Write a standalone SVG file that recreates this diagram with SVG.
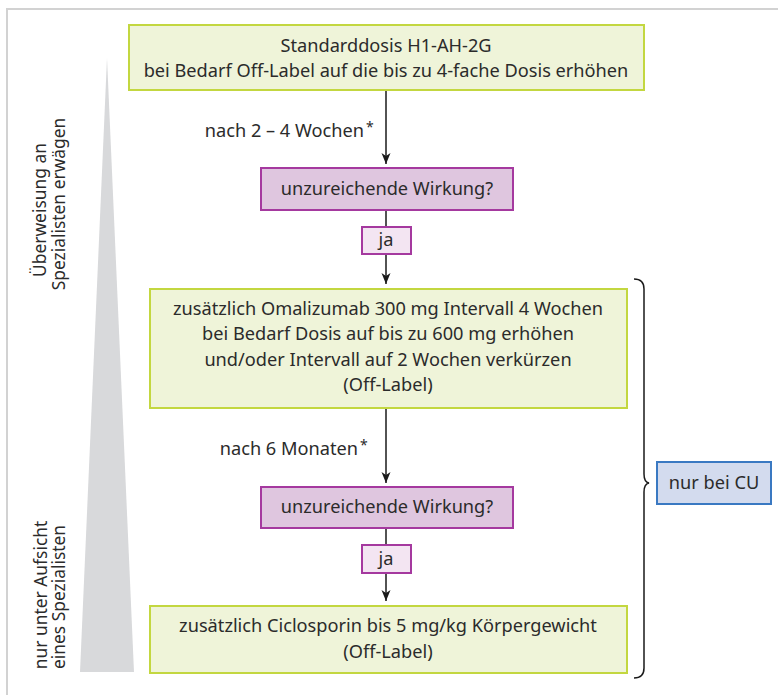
<svg xmlns="http://www.w3.org/2000/svg" width="778" height="695" viewBox="0 0 778 695">
<defs>
<marker id="ah" markerWidth="12" markerHeight="10" refX="11" refY="5" orient="auto" markerUnits="userSpaceOnUse">
<path d="M0,0.5 L11,5 L0,9.5 L3,5 Z" fill="#1a1a1a"/>
</marker>
</defs>
<style>
text{font-family:"Noto Sans","Liberation Sans",Arial,sans-serif;font-size:18.2px;fill:#2b2b2b}
.c{text-anchor:middle}
.r{text-anchor:end}
.side{font-size:17.4px}
.green{fill:#eff4d9;stroke:#c3d740;stroke-width:2}
.purple{fill:#dfc6df;stroke:#a5399f;stroke-width:2}
.ja{fill:#f3e5f2;stroke:#a5399f;stroke-width:2}
.blue{fill:#d3dbee;stroke:#3a79c2;stroke-width:2}
.conn{stroke:#1a1a1a;stroke-width:1.5;fill:none}
.sup{font-size:14px}
</style>
<rect x="0" y="0" width="778" height="695" fill="#ffffff"/>
<path d="M7,695 L7,9 L778,9" fill="none" stroke="#d2d2d2" stroke-width="2"/>
<polygon points="107,58 134,672 80,672" fill="#d8d9db"/>
<g id="side-top">
<text class="c side" transform="translate(46,210) rotate(-90)">Überweisung an</text>
<text class="c side" transform="translate(65,204) rotate(-90)">Spezialisten erwägen</text>
</g>
<g id="side-bottom">
<text class="c side" transform="translate(47,595) rotate(-90)">nur unter Aufsicht</text>
<text class="c side" transform="translate(65,597) rotate(-90)">eines Spezialisten</text>
</g>
<g id="connectors">
<line class="conn" x1="386" y1="90" x2="386" y2="164" marker-end="url(#ah)"/>
<line class="conn" x1="386" y1="210" x2="386" y2="227"/>
<line class="conn" x1="386" y1="254" x2="386" y2="284" marker-end="url(#ah)"/>
<line class="conn" x1="386" y1="408" x2="386" y2="483" marker-end="url(#ah)"/>
<line class="conn" x1="386" y1="528" x2="386" y2="545"/>
<line class="conn" x1="386" y1="573" x2="386" y2="601" marker-end="url(#ah)"/>
<path class="conn" d="M634,279 Q644,279 644,289 L644,474 Q644,482 649,483 Q644,484 644,492 L644,668 Q644,678 634,678" stroke-width="1.3"/>
</g>
<g id="n1">
<rect class="green" x="129" y="25" width="515" height="65"/>
<text class="c" x="386" y="52">Standarddosis H1-AH-2G</text>
<text class="c" x="386" y="77">bei Bedarf Off-Label auf die bis zu 4-fache Dosis erhöhen</text>
</g>
<g id="l1">
<text class="r" x="364" y="137">nach 2 – 4 Wochen</text>
<text class="sup" x="366" y="132">*</text>
</g>
<g id="n2">
<rect class="purple" x="261" y="168" width="252" height="42"/>
<text class="c" x="387" y="195">unzureichende Wirkung?</text>
</g>
<g id="ja1">
<rect class="ja" x="362" y="227" width="49" height="27"/>
<text class="c" x="386" y="246">ja</text>
</g>
<g id="n3">
<rect class="green" x="150" y="289" width="477" height="119"/>
<text class="c" x="388" y="315">zusätzlich Omalizumab 300 mg Intervall 4 Wochen</text>
<text class="c" x="388" y="340">bei Bedarf Dosis auf bis zu 600 mg erhöhen</text>
<text class="c" x="388" y="366">und/oder Intervall auf 2 Wochen verkürzen</text>
<text class="c" x="388" y="391">(Off-Label)</text>
</g>
<g id="l2">
<text class="r" x="358" y="455">nach 6 Monaten</text>
<text class="sup" x="360" y="450">*</text>
</g>
<g id="n4">
<rect class="purple" x="261" y="487" width="252" height="41"/>
<text class="c" x="387" y="513">unzureichende Wirkung?</text>
</g>
<g id="ja2">
<rect class="ja" x="362" y="545" width="49" height="28"/>
<text class="c" x="386" y="565">ja</text>
</g>
<g id="n5">
<rect class="green" x="150" y="606" width="477" height="67"/>
<text class="c" x="388" y="632">zusätzlich Ciclosporin bis 5 mg/kg Körpergewicht</text>
<text class="c" x="388" y="658">(Off-Label)</text>
</g>
<g id="cu">
<rect class="blue" x="657" y="462" width="114" height="42"/>
<text class="c" x="714" y="489">nur bei CU</text>
</g>
</svg>
